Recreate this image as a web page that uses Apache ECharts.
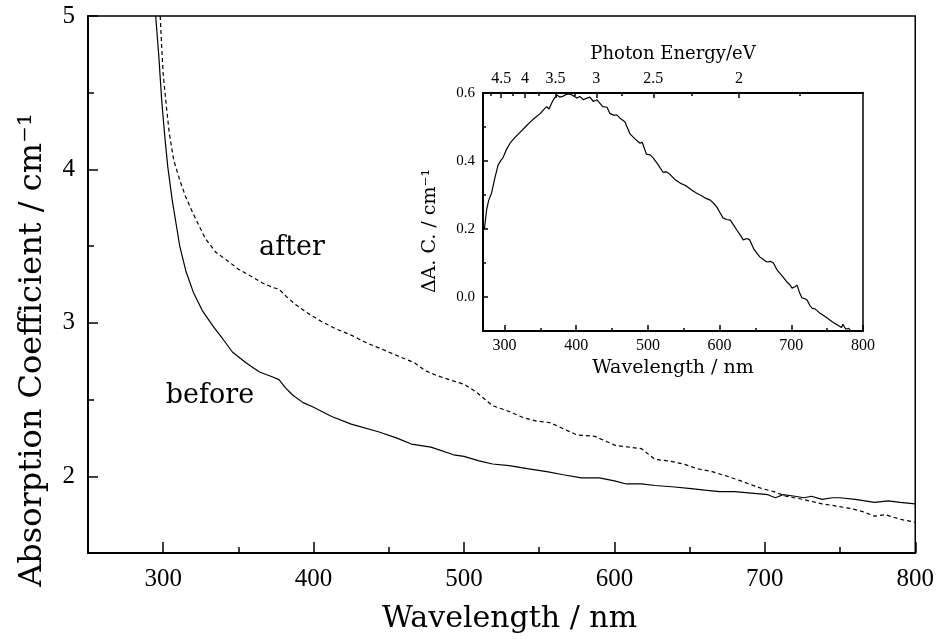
<!DOCTYPE html>
<html>
<head>
<meta charset="utf-8">
<title>Absorption Coefficient</title>
<script src="https://cdn.jsdelivr.net/npm/echarts@6/dist/echarts.min.js"></script>
<style>
  html, body { margin: 0; padding: 0; background: #fff; }
</style>
</head>
<body>
<div id="chart" style="width: 937px; height: 639px"></div>
<script>
// main chart: "before" (solid)
const beforeWl = [295, 297, 299, 301, 303, 306, 309, 311, 315, 320, 326, 333, 340, 346, 355, 364, 372, 377, 381, 386, 393, 400, 412, 425, 443, 455, 465, 478, 493, 500, 510, 519, 530, 542, 555, 566, 578, 590, 600, 608, 618, 627, 640, 651, 660, 670, 680, 691, 702, 707, 712, 720, 726, 731, 738, 745, 750, 760, 773, 782, 790, 800]
const beforeAbs = [5.0, 4.75, 4.45, 4.22, 4.02, 3.8, 3.62, 3.5, 3.34, 3.2, 3.08, 2.98, 2.89, 2.81, 2.74, 2.68, 2.65, 2.63, 2.58, 2.53, 2.48, 2.45, 2.39, 2.34, 2.29, 2.25, 2.21, 2.19, 2.14, 2.13, 2.1, 2.08, 2.07, 2.05, 2.03, 2.01, 1.99, 1.99, 1.97, 1.95, 1.95, 1.94, 1.93, 1.92, 1.91, 1.9, 1.9, 1.89, 1.88, 1.86, 1.88, 1.87, 1.86, 1.87, 1.85, 1.86, 1.86, 1.85, 1.83, 1.84, 1.83, 1.82]

// main chart: "after" (dashed)
const afterWl = [298, 299, 300, 302, 304, 307, 311, 315, 320, 328, 335, 342, 350, 359, 366, 373, 377, 382, 388, 395, 405, 415, 425, 435, 445, 457, 467, 474, 481, 490, 500, 508, 519, 528, 540, 548, 557, 566, 575, 587, 594, 601, 610, 618, 627, 636, 646, 655, 665, 675, 684, 698, 706, 714, 725, 738, 745, 757, 765, 773, 780, 790, 800]
const afterAbs = [5.0, 4.8, 4.62, 4.42, 4.24, 4.06, 3.93, 3.82, 3.71, 3.55, 3.46, 3.41, 3.35, 3.3, 3.26, 3.23, 3.22, 3.17, 3.12, 3.07, 3.01, 2.96, 2.92, 2.87, 2.83, 2.78, 2.74, 2.69, 2.66, 2.63, 2.6, 2.55, 2.46, 2.43, 2.38, 2.36, 2.35, 2.31, 2.27, 2.26, 2.23, 2.2, 2.19, 2.18, 2.11, 2.1, 2.08, 2.05, 2.03, 2, 1.97, 1.92, 1.9, 1.87, 1.85, 1.82, 1.81, 1.79, 1.77, 1.74, 1.75, 1.72, 1.7]

// inset: difference spectrum
const insetWl = [272, 275, 278, 282, 286, 291, 295, 298, 303, 308, 315, 322, 329, 336, 343, 350, 355, 359, 362, 368, 373, 377, 381, 386, 391, 396, 401, 405, 410, 415, 419, 424, 429, 437, 443, 447, 452, 457, 461, 465, 468, 472, 475, 482, 489, 492, 498, 503, 507, 514, 521, 526, 531, 538, 545, 550, 554, 561, 568, 575, 581, 587, 592, 596, 600, 605, 610, 615, 620, 624, 628, 633, 638, 642, 648, 656, 661, 666, 671, 675, 680, 684, 690, 694, 698, 701, 705, 708, 712, 715, 719, 722, 726, 729, 733, 736, 740, 744, 750, 758, 765, 770, 772, 776, 780, 783]
const insetDelta = [0.2, 0.256, 0.285, 0.306, 0.345, 0.388, 0.402, 0.41, 0.435, 0.453, 0.47, 0.485, 0.5, 0.515, 0.528, 0.54, 0.552, 0.56, 0.553, 0.58, 0.594, 0.588, 0.59, 0.596, 0.597, 0.592, 0.585, 0.59, 0.58, 0.585, 0.588, 0.575, 0.58, 0.56, 0.558, 0.54, 0.535, 0.535, 0.526, 0.52, 0.515, 0.495, 0.48, 0.465, 0.452, 0.455, 0.42, 0.418, 0.41, 0.39, 0.367, 0.368, 0.36, 0.345, 0.335, 0.33, 0.326, 0.315, 0.305, 0.298, 0.29, 0.285, 0.275, 0.265, 0.25, 0.232, 0.228, 0.226, 0.21, 0.197, 0.185, 0.168, 0.172, 0.168, 0.14, 0.118, 0.11, 0.103, 0.105, 0.1, 0.08, 0.07, 0.055, 0.044, 0.036, 0.026, 0.03, 0.035, 0.01, -0.003, -0.005, -0.009, -0.025, -0.033, -0.035, -0.04, -0.048, -0.053, -0.062, -0.074, -0.083, -0.09, -0.08, -0.095, -0.092, -0.1]

// tick values
const mainXMajor = [300, 400, 500, 600, 700, 800]
const mainXMinor = [350, 450, 550, 650, 750]
const mainYMajor = [2, 3, 4, 5]
const mainYMinor = [2.5, 3.5, 4.5]
const insetXMajor = [300, 400, 500, 600, 700, 800]
const insetXMinor = [350, 450, 550, 650, 750]
const insetYMajor = [0, 0.2, 0.4, 0.6]
const insetYMinor = [0.1, 0.3, 0.5]
const energyMajor = [4.5, 4, 3.5, 3, 2.5, 2]
const energyMinor = [4.75, 4.25, 3.75, 3.25, 2.75, 2.25, 1.75]

// photon energy scale as it is printed on the figure (wavelength in nm for E in eV)
const energyToWl = e => 30 + 1194 / e
const wlToEnergy = w => 1194 / (w - 30)

const serifNum = 'Liberation Serif'
const serifText = 'DejaVu Serif'

function zip(xs, ys) {
  return xs.map((x, i) => [x, ys[i]])
}

// helper for an axis that only draws ticks (minor ticks overlay)
function tickAxis(base, values, len) {
  return Object.assign({
    type: 'value',
    axisLine: { show: false, onZero: false },
    axisTick: { show: true, inside: true, length: len, customValues: values, lineStyle: { color: '#000', width: 1.5 } },
    axisLabel: { show: false },
    splitLine: { show: false }
  }, base)
}

const chart = echarts.init(document.getElementById('chart'))

const option = {
  backgroundColor: '#fff',
  animation: false,
  grid: [
    { left: 88, top: 16, right: 18, bottom: 85, show: true, borderColor: '#000', borderWidth: 1.5, backgroundColor: 'transparent' },
    { left: 483, top: 93, right: 74, bottom: 308, show: true, borderColor: '#000', borderWidth: 1.5, backgroundColor: '#fff' }
  ],
  xAxis: [
    {
      gridIndex: 0,
      type: 'value',
      position: 'bottom',
      min: 250,
      max: 800,
      axisLine: { onZero: false, lineStyle: { color: '#000', width: 2 } },
      axisTick: { inside: true, length: 11, customValues: mainXMajor, lineStyle: { color: '#000', width: 1.5 } },
      axisLabel: { customValues: mainXMajor, color: '#000', fontFamily: serifNum, fontSize: 25, margin: 14 },
      splitLine: { show: false },
      name: 'Wavelength / nm',
      nameLocation: 'middle',
      nameGap: 51,
      nameTextStyle: { color: '#000', fontFamily: serifText, fontSize: 30, padding: [0, 0, 0, 16] }
    },
    tickAxis({ gridIndex: 0, position: 'bottom', min: 250, max: 800 }, mainXMinor, 6),
    {
      gridIndex: 1,
      type: 'value',
      position: 'bottom',
      min: 270,
      max: 800,
      axisLine: { onZero: false, lineStyle: { color: '#000', width: 2 } },
      axisTick: { inside: true, length: 6, customValues: insetXMajor, lineStyle: { color: '#000', width: 1.5 } },
      axisLabel: { customValues: insetXMajor, color: '#000', fontFamily: serifNum, fontSize: 16, margin: 7 },
      splitLine: { show: false },
      name: 'Wavelength / nm',
      nameLocation: 'middle',
      nameGap: 28,
      nameTextStyle: { color: '#000', fontFamily: serifText, fontSize: 19 }
    },
    tickAxis({ gridIndex: 1, position: 'bottom', min: 270, max: 800 }, insetXMinor, 3),
    {
      // photon energy scale on top of the inset
      gridIndex: 1,
      type: 'value',
      position: 'top',
      min: 270,
      max: 800,
      axisLine: { onZero: false, lineStyle: { color: '#000', width: 2 } },
      axisTick: { inside: true, length: 5, customValues: energyMajor.map(energyToWl), lineStyle: { color: '#000', width: 1.5 } },
      axisLabel: {
        customValues: energyMajor.map(energyToWl),
        formatter: v => String(Math.round(wlToEnergy(v) * 2) / 2),
        color: '#000', fontFamily: serifNum, fontSize: 16, margin: 6
      },
      splitLine: { show: false },
      name: 'Photon Energy/eV',
      nameLocation: 'middle',
      nameGap: 30,
      nameTextStyle: { color: '#000', fontFamily: serifText, fontSize: 18 }
    },
    tickAxis({ gridIndex: 1, position: 'top', min: 270, max: 800 }, energyMinor.map(energyToWl), 3)
  ],
  yAxis: [
    {
      gridIndex: 0,
      type: 'value',
      position: 'left',
      min: 1.5,
      max: 5,
      axisLine: { onZero: false, lineStyle: { color: '#000', width: 2 } },
      axisTick: { inside: true, length: 10, customValues: mainYMajor, lineStyle: { color: '#000', width: 1.5 } },
      axisLabel: { customValues: mainYMajor, color: '#000', fontFamily: serifNum, fontSize: 25, margin: 13 },
      splitLine: { show: false }
    },
    tickAxis({ gridIndex: 0, position: 'left', min: 1.5, max: 5 }, mainYMinor, 6),
    {
      gridIndex: 1,
      type: 'value',
      position: 'left',
      min: -0.1,
      max: 0.6,
      axisLine: { onZero: false, lineStyle: { color: '#000', width: 2 } },
      axisTick: { inside: true, length: 5, customValues: insetYMajor, lineStyle: { color: '#000', width: 1.5 } },
      axisLabel: { customValues: insetYMajor, formatter: v => v.toFixed(1), color: '#000', fontFamily: serifNum, fontSize: 15, margin: 8 },
      splitLine: { show: false }
    },
    tickAxis({ gridIndex: 1, position: 'left', min: -0.1, max: 0.6 }, insetYMinor, 3)
  ],
  graphic: [
    {
      type: 'text', x: 33, y: 350, rotation: Math.PI / 2,
      style: { text: 'Absorption Coefficient / cm⁻¹', fill: '#000', font: '32px "DejaVu Serif"', align: 'center', verticalAlign: 'middle' }
    },
    {
      type: 'text', x: 430, y: 231, rotation: Math.PI / 2,
      style: { text: 'ΔA. C. / cm⁻¹', fill: '#000', font: '19px "DejaVu Serif"', align: 'center', verticalAlign: 'middle' }
    },
    {
      type: 'text', x: 292, y: 248,
      style: { text: 'after', fill: '#000', font: '27px "DejaVu Serif"', align: 'center', verticalAlign: 'middle' }
    },
    {
      type: 'text', x: 210, y: 396,
      style: { text: 'before', fill: '#000', font: '27px "DejaVu Serif"', align: 'center', verticalAlign: 'middle' }
    }
  ],
  series: [
    {
      name: 'before',
      type: 'line',
      xAxisIndex: 0,
      yAxisIndex: 0,
      showSymbol: false,
      data: zip(beforeWl, beforeAbs),
      lineStyle: { color: '#000', width: 1.2 }
    },
    {
      name: 'after',
      type: 'line',
      xAxisIndex: 0,
      yAxisIndex: 0,
      showSymbol: false,
      data: zip(afterWl, afterAbs),
      lineStyle: { color: '#000', width: 1.2, type: [4, 3] }
    },
    {
      name: 'delta',
      type: 'line',
      xAxisIndex: 2,
      yAxisIndex: 2,
      showSymbol: false,
      data: zip(insetWl, insetDelta),
      lineStyle: { color: '#000', width: 1.2 }
    }
  ]
}

chart.setOption(option)
</script>
</body>
</html>
